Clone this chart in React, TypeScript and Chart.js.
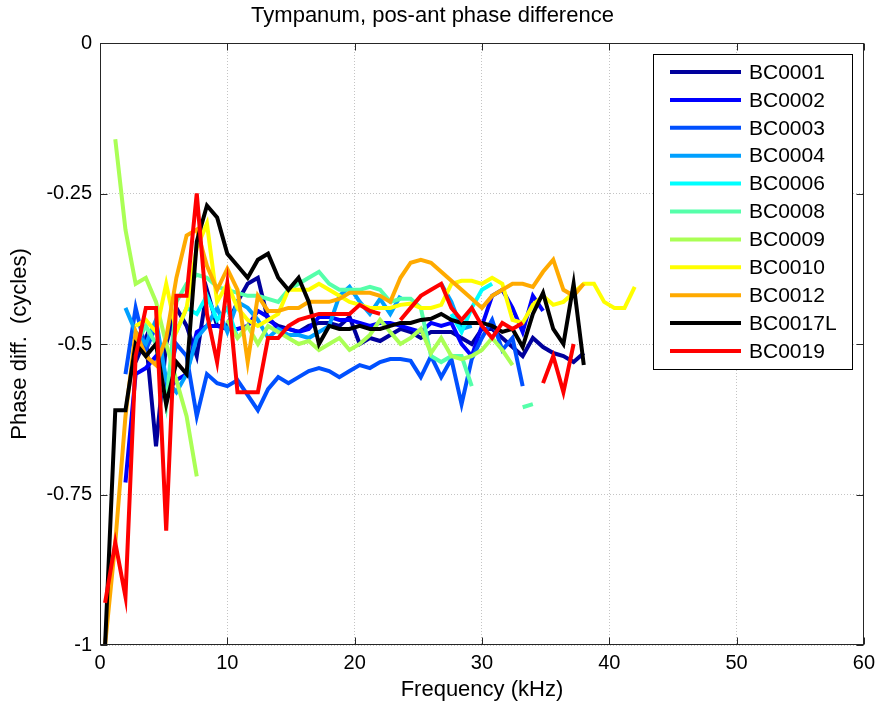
import { useEffect, useRef } from "react";
import { Chart, registerables } from "chart.js";

Chart.register(...registerables);

const FONT = "'Liberation Sans', Arial, Helvetica, sans-serif";

const chartTitle = "Tympanum, pos-ant phase difference";
const xAxisTitle = "Frequency (kHz)";
const yAxisTitle = "Phase diff.  (cycles)";

const xTicks = [0, 10, 20, 30, 40, 50, 60];
const yTicks = [0, -0.25, -0.5, -0.75, -1];

const frequencies = [
  0.4, 1.2, 2.0, 2.8, 3.6, 4.4, 5.2, 6.0, 6.8, 7.6,
  8.4, 9.2, 10.0, 10.8, 11.6, 12.4, 13.2, 14.0, 14.8, 15.6,
  16.4, 17.2, 18.0, 18.8, 19.6, 20.4, 21.2, 22.0, 22.8, 23.6,
  24.4, 25.2, 26.0, 26.8, 27.6, 28.4, 29.2, 30.0, 30.8, 31.6,
  32.4, 33.2, 34.0, 34.8, 35.6, 36.4, 37.2, 38.0, 38.8, 39.6,
  40.4, 41.2, 42.0,
];

const seriesLabels = ["BC0001", "BC0002", "BC0003", "BC0004", "BC0006", "BC0008", "BC0009", "BC0010", "BC0012", "BC0017L", "BC0019"];
const seriesColors = ["#00009c", "#0000ff", "#0050ff", "#00a0ff", "#00ffff", "#55ffaa", "#aaff55", "#ffff00", "#ffaa00", "#000000", "#ff0000"];

const bc0001 = [
  null, null, null, -0.53, -0.49, -0.67, -0.50, -0.44, -0.47, -0.52,
  -0.41, -0.47, -0.47, -0.43, -0.40, -0.39, -0.46, -0.47, -0.475, -0.48,
  -0.47, -0.465, -0.465, -0.47, -0.455, -0.50, -0.49, -0.495, -0.485, -0.475,
  -0.48, -0.49, -0.48, -0.48, -0.48, -0.49, -0.50, -0.475, -0.475, -0.49,
  -0.505, -0.52, -0.49, -0.505, -0.515, -0.52, -0.53, -0.515, null, null,
  null, null, null,
];
const bc0002 = [
  null, null, -0.73, -0.55, -0.54, -0.52, -0.58, -0.56, -0.55, -0.48,
  -0.47, -0.47, -0.475, -0.475, -0.47, -0.445, -0.455, -0.475, -0.475, -0.48,
  -0.475, -0.455, -0.455, -0.46, -0.46, -0.465, -0.47, -0.465, -0.465, -0.47,
  -0.475, -0.48, -0.465, -0.47, -0.465, -0.50, -0.52, -0.47, -0.42, -0.41,
  -0.44, -0.48, -0.42, -0.445, null, null, null, null, null, null,
  null, null, null,
];
const bc0003 = [
  null, null, -0.55, -0.44, -0.51, -0.47, -0.57, -0.50, -0.52, -0.62,
  -0.55, -0.565, -0.57, -0.56, -0.585, -0.61, -0.575, -0.555, -0.565, -0.555,
  -0.545, -0.54, -0.545, -0.555, -0.545, -0.535, -0.54, -0.53, -0.525, -0.525,
  -0.528, -0.555, -0.52, -0.555, -0.525, -0.60, -0.525, -0.49, -0.46, -0.51,
  -0.49, -0.57, null, null, null, null, null, null, null, null,
  null, null, null,
];
const bc0004 = [
  null, null, -0.44, -0.48, -0.50, -0.46, -0.56, -0.58, -0.55, -0.49,
  -0.47, -0.44, -0.48, -0.43, -0.44, -0.46, -0.49, -0.475, -0.485, -0.485,
  -0.49, -0.48, -0.47, -0.42, -0.405, -0.43, -0.45, -0.425, -0.45, -0.42,
  null, null, null, -0.40, -0.43, -0.475, -0.47, null, null, null,
  null, null, null, null, null, null, null, null, null, null,
  null, null, null,
];
const bc0006 = [
  null, null, null, null, null, null, null, -0.48, -0.44, -0.45,
  -0.42, -0.46, -0.44, -0.49, null, null, null, null, null, null,
  null, null, null, null, null, null, null, null, null, null,
  null, null, null, null, -0.45, -0.48, -0.44, -0.41, -0.40, null,
  null, null, null, null, null, null, null, null, null, null,
  null, null, null,
];
const bc0008 = [
  null, null, null, -0.50, -0.47, -0.50, -0.60, -0.43, -0.40, -0.385,
  -0.39, -0.405, -0.41, -0.415, -0.42, -0.42, -0.425, -0.43, -0.41, -0.40,
  -0.39, -0.38, -0.40, -0.41, -0.41, -0.41, -0.405, -0.41, -0.43, -0.425,
  -0.425, -0.44, -0.52, -0.53, -0.52, -0.52, -0.57, null, null, null,
  null, -0.605, -0.60, null, null, null, null, null, null, null,
  null, null, null,
];
const bc0009 = [
  null, -0.16, -0.31, -0.40, -0.39, -0.43, -0.50, -0.56, -0.62, -0.72,
  null, null, -0.46, -0.49, -0.47, -0.50, -0.47, -0.48, -0.49, -0.50,
  -0.495, -0.51, -0.50, -0.49, -0.51, -0.50, -0.485, -0.46, -0.48, -0.50,
  -0.49, -0.475, -0.515, -0.49, -0.52, -0.525, -0.52, -0.51, -0.49, -0.51,
  -0.535, null, null, null, null, null, null, null, null, null,
  null, null, null,
];
const bc0010 = [
  null, null, null, -0.47, -0.46, -0.48, -0.40, -0.48, -0.44, -0.34,
  -0.30, -0.43, -0.40, -0.44, -0.46, -0.47, -0.46, -0.45, -0.41, -0.41,
  -0.41, -0.40, -0.41, -0.42, -0.43, -0.435, -0.44, -0.44, -0.44, -0.435,
  -0.433, -0.44, -0.44, -0.435, -0.40, -0.395, -0.395, -0.40, -0.39, -0.40,
  -0.46, -0.465, -0.435, -0.42, -0.435, -0.43, -0.415, -0.40, -0.40, -0.43,
  -0.44, -0.44, -0.405,
];
const bc0012 = [
  -1.0, -0.83, -0.62, -0.48, -0.52, -0.535, -0.49, -0.39, -0.32, -0.31,
  -0.37, -0.41, -0.375, -0.41, -0.53, -0.42, -0.445, -0.445, -0.44, -0.44,
  -0.43, -0.43, -0.43, -0.425, -0.415, -0.415, -0.415, -0.42, -0.43, -0.39,
  -0.365, -0.36, -0.365, -0.38, -0.395, -0.41, -0.425, -0.44, -0.42, -0.41,
  -0.40, -0.40, -0.405, -0.38, -0.36, -0.41, -0.42, -0.40, null, null,
  null, null, null,
];
const bc0017L = [
  -1.0, -0.61, -0.61, -0.50, -0.52, -0.50, -0.60, -0.53, -0.55, -0.33,
  -0.27, -0.29, -0.35, -0.37, -0.39, -0.36, -0.35, -0.39, -0.41, -0.39,
  -0.43, -0.50, -0.47, -0.475, -0.475, -0.47, -0.475, -0.475, -0.47, -0.465,
  -0.465, -0.46, -0.458, -0.45, -0.46, -0.465, -0.465, -0.465, -0.47, -0.48,
  -0.475, -0.505, -0.45, -0.415, -0.475, -0.50, -0.40, -0.535, null, null,
  null, null, null,
];
const bc0019 = [
  -0.93, -0.83, -0.92, -0.52, -0.44, -0.44, -0.81, -0.42, -0.42, -0.25,
  -0.45, -0.53, -0.40, -0.58, -0.58, -0.58, -0.49, -0.49, -0.47, -0.46,
  -0.455, -0.45, -0.45, -0.45, -0.45, -0.435, -0.445, -0.45, null, -0.46,
  -0.44, -0.42, -0.41, -0.40, -0.44, -0.46, -0.44, -0.47, -0.49, -0.465,
  -0.475, -0.465, null, -0.565, -0.52, -0.58, -0.50, null, null, null,
  null, null, null,
];

const seriesValues = [bc0001, bc0002, bc0003, bc0004, bc0006, bc0008, bc0009, bc0010, bc0012, bc0017L, bc0019];

const AXIS_COLOR = "#262626";

const framePlugin = {
  id: "matlabFrame",
  afterDraw(chart: any) {
    const { ctx, chartArea: a, scales } = chart;
    const L = Math.round(a.left) + 0.5;
    const R = Math.round(a.right) - 0.5;
    const T = Math.round(a.top) + 0.5;
    const B = Math.round(a.bottom) - 0.5;
    ctx.save();
    ctx.strokeStyle = AXIS_COLOR;
    ctx.lineWidth = 1;
    ctx.strokeRect(L, T, R - L, B - T);
    const tl = 7;
    ctx.beginPath();
    for (const v of xTicks) {
      const x = Math.round(scales.x.getPixelForValue(v)) + 0.5;
      ctx.moveTo(x, B);
      ctx.lineTo(x, B - tl);
      ctx.moveTo(x, T);
      ctx.lineTo(x, T + tl);
    }
    for (const v of yTicks) {
      const y = Math.round(scales.y.getPixelForValue(v)) + 0.5;
      ctx.moveTo(L, y);
      ctx.lineTo(L + tl, y);
      ctx.moveTo(R, y);
      ctx.lineTo(R - tl, y);
    }
    ctx.stroke();

    // legend box (MATLAB style, inside axes, top right)
    const bx = 653.5, by = 54.5, bw = 199, bh = 315;
    ctx.fillStyle = "#ffffff";
    ctx.fillRect(bx, by, bw, bh);
    ctx.strokeStyle = "#000000";
    ctx.strokeRect(bx, by, bw, bh);
    ctx.font = `21px ${FONT}`;
    ctx.textBaseline = "middle";
    ctx.textAlign = "left";
    chart.data.datasets.forEach((ds: any, i: number) => {
      const cy = 72 + i * 27.9;
      ctx.strokeStyle = ds.borderColor;
      ctx.lineWidth = 4;
      ctx.beginPath();
      ctx.moveTo(670, cy);
      ctx.lineTo(741, cy);
      ctx.stroke();
      ctx.fillStyle = "#000000";
      ctx.fillText(ds.label, 749, cy + 1);
    });
    ctx.restore();
  },
};

export default function App() {
  const canvasRef = useRef<HTMLCanvasElement | null>(null);

  useEffect(() => {
    if (!canvasRef.current) return;
    const datasets = seriesLabels.map((label, i) => ({
      label,
      data: frequencies.map((f, k) => ({ x: f, y: seriesValues[i][k] })),
      borderColor: seriesColors[i],
      backgroundColor: seriesColors[i],
      borderWidth: 4,
      pointRadius: 0,
      tension: 0,
      spanGaps: false,
      order: seriesLabels.length - 1 - i,
    }));

    const chart = new Chart(canvasRef.current, {
      type: "line",
      data: { datasets },
      options: {
        animation: false,
        responsive: true,
        maintainAspectRatio: false,
        layout: { padding: { left: 0, right: 16, top: 0, bottom: 0 } },
        plugins: {
          legend: { display: false },
          tooltip: { enabled: false },
          title: {
            display: true,
            text: chartTitle,
            color: "#000",
            font: { family: FONT, size: 22, weight: "normal", lineHeight: 1.2 },
            padding: { top: 3, bottom: 13.6 },
          },
        },
        scales: {
          x: {
            type: "linear",
            min: 0,
            max: 60,
            afterBuildTicks: (s: any) => {
              s.ticks = xTicks.map((v) => ({ value: v }));
            },
            afterFit: (s: any) => {
              s.height = 66;
            },
            ticks: {
              color: "#000",
              font: { family: FONT, size: 20 },
              padding: 6,
              maxRotation: 0,
              autoSkip: false,
            },
            grid: { color: "#c4c4c4", lineWidth: 1, drawTicks: false },
            border: { display: false, dash: [1, 2] },
            title: {
              display: true,
              text: xAxisTitle,
              color: "#000",
              font: { family: FONT, size: 22, lineHeight: 1.2 },
              padding: { top: 0, bottom: 7.8 },
            },
          },
          y: {
            type: "linear",
            min: -1,
            max: 0,
            afterBuildTicks: (s: any) => {
              s.ticks = yTicks.map((v) => ({ value: v }));
            },
            afterFit: (s: any) => {
              s.width = 100;
            },
            ticks: {
              color: "#000",
              font: { family: FONT, size: 20 },
              padding: 8,
              autoSkip: false,
              callback: (v: any) => String(v),
            },
            grid: { color: "#c4c4c4", lineWidth: 1, drawTicks: false },
            border: { display: false, dash: [1, 2] },
            title: {
              display: true,
              text: yAxisTitle,
              color: "#000",
              font: { family: FONT, size: 22, lineHeight: 1.2 },
              padding: { top: 6.8, bottom: 0 },
            },
          },
        },
      },
      plugins: [framePlugin],
    });
    return () => chart.destroy();
  }, []);

  return (
    <div style={{ position: "fixed", left: 0, top: 0, width: 881, height: 711, background: "#fff" }}>
      <canvas ref={canvasRef} />
    </div>
  );
}
